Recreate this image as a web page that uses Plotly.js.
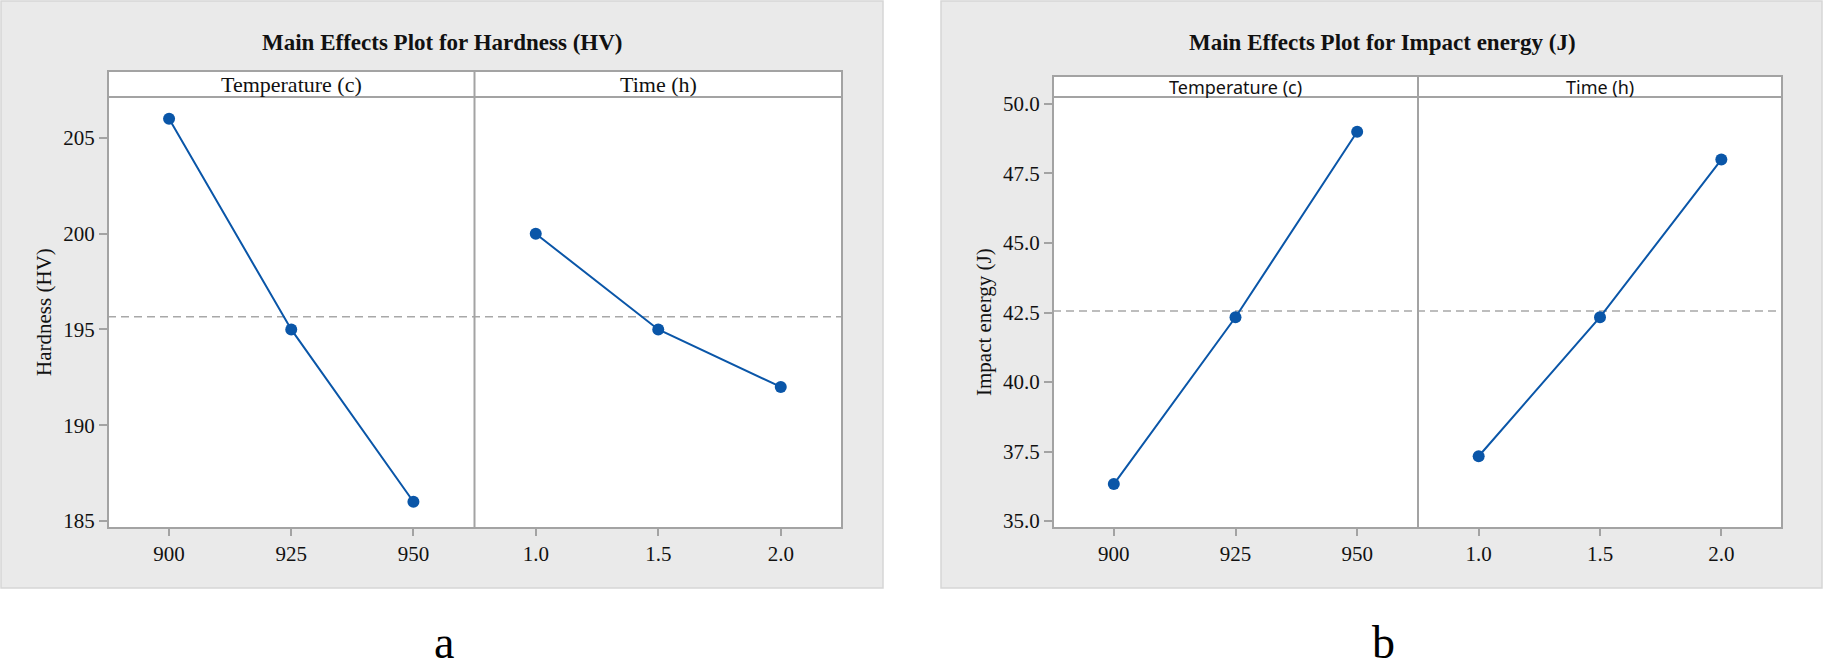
<!DOCTYPE html>
<html>
<head>
<meta charset="utf-8">
<script src="https://cdn.plot.ly/plotly-3.0.1.min.js"></script>
<style>html,body{margin:0;padding:0;background:#fff;}#chart{width:1824px;height:668px;}</style>
</head>
<body>
<div id="chart"></div>
<script>
// ---- data ----
const temperatureLevels = [900, 925, 950];
const timeLevels = [1.0, 1.5, 2.0];
const timeTickText = ["1.0", "1.5", "2.0"];
const hardnessByTemperature = [206, 195, 186];
const hardnessByTime = [200, 195, 192];
const impactByTemperature = [36.33, 42.33, 49.0];
const impactByTime = [37.33, 42.33, 48.0];
const hardnessTicks = [185, 190, 195, 200, 205];
const impactTicks = [35.0, 37.5, 40.0, 42.5, 45.0, 47.5, 50.0];
const impactTickText = ["35.0", "37.5", "40.0", "42.5", "45.0", "47.5", "50.0"];
const titleA = "Main Effects Plot for Hardness (HV)";
const titleB = "Main Effects Plot for Impact energy (J)";
const factorNames = ["Temperature (c)", "Time (h)"];
const yTitleA = "Hardness (HV)";
const yTitleB = "Impact energy (J)";

const mean = a => a.reduce((s, v) => s + v, 0) / a.length;

const W = 1824, H = 668;
const px = x => x / W;
const py = y => 1 - y / H;

const blue = "#0A56A8";
const frame = "#A3A3A3";
const serif = "Liberation Serif, Times New Roman, serif";
const sans = "Noto Sans, Open Sans, sans-serif";

const lineStyle = {color: blue, width: 2};
const markerStyle = {color: blue, size: 12};

const traces = [
  {x: temperatureLevels, y: hardnessByTemperature, xaxis: "x", yaxis: "y", mode: "lines+markers", line: lineStyle, marker: markerStyle, cliponaxis: false},
  {x: timeLevels, y: hardnessByTime, xaxis: "x2", yaxis: "y", mode: "lines+markers", line: lineStyle, marker: markerStyle, cliponaxis: false},
  {x: temperatureLevels, y: impactByTemperature, xaxis: "x3", yaxis: "y2", mode: "lines+markers", line: lineStyle, marker: markerStyle, cliponaxis: false},
  {x: timeLevels, y: impactByTime, xaxis: "x4", yaxis: "y2", mode: "lines+markers", line: lineStyle, marker: markerStyle, cliponaxis: false}
];

const PT = 97, PB = 528;
const yDom = [py(PB), py(PT)];

function xAxis(domain, range, vals, text, anchor) {
  return {
    domain: domain, range: range, anchor: anchor,
    tickmode: "array", tickvals: vals, ticktext: text,
    ticks: "outside", ticklen: 7, tickwidth: 2, tickcolor: frame,
    showline: false, showgrid: false, zeroline: false,
    tickfont: {family: serif, size: 21, color: "#111"}
  };
}
function yAxis(range, vals, text, anchor) {
  return {
    domain: yDom, range: range, anchor: anchor,
    tickmode: "array", tickvals: vals, ticktext: text,
    ticks: "outside", ticklen: 8, tickwidth: 2, tickcolor: frame,
    showline: false, showgrid: false, zeroline: false,
    tickfont: {family: serif, size: 21, color: "#111"}
  };
}

const panelFill = {fillcolor: "#EAEAEA", line: {color: "#D6D6D6", width: 1.5}, layer: "below"};
const whiteFill = {fillcolor: "#FFFFFF", line: {width: 0}, layer: "below"};
const frameLine = {color: frame, width: 2};

function rect(x0, x1, y0, y1, style) {
  return Object.assign({type: "rect", xref: "paper", yref: "paper",
    x0: px(x0), x1: px(x1), y0: py(y1), y1: py(y0)}, style);
}
function vline(x, y0, y1) {
  return {type: "line", xref: "paper", yref: "paper", x0: px(x), x1: px(x), y0: py(y1), y1: py(y0), line: frameLine, layer: "above"};
}

const shapes = [
  rect(1, 883, 1, 588, panelFill),
  rect(941, 1822, 1, 588, panelFill),
  rect(108, 842, PT, PB, whiteFill),
  rect(1053, 1782, PT, PB, whiteFill),
  {type: "line", xref: "paper", yref: "y", x0: px(108), x1: px(842),
   y0: mean(hardnessByTemperature), y1: mean(hardnessByTemperature),
   line: {color: "#A8A8A8", width: 1.5, dash: "8px,5px"}, layer: "below"},
  {type: "line", xref: "paper", yref: "y2", x0: px(1053), x1: px(1782),
   y0: mean(impactByTemperature), y1: mean(impactByTemperature),
   line: {color: "#A8A8A8", width: 1.5, dash: "8px,5px"}, layer: "below"},
  rect(108, 842, 71, PT, {fillcolor: "#FFFFFF", line: frameLine, layer: "below"}),
  rect(1053, 1782, 76, PT, {fillcolor: "#FFFFFF", line: frameLine, layer: "below"}),
  rect(108, 842, PT, PB, {fillcolor: "rgba(0,0,0,0)", line: frameLine, layer: "above"}),
  rect(1053, 1782, PT, PB, {fillcolor: "rgba(0,0,0,0)", line: frameLine, layer: "above"}),
  vline(474.5, 71, PB),
  vline(1418, 76, PB)
];

const annotations = [
  {text: "<b>" + titleA + "</b>", xref: "paper", yref: "paper", x: px(442), y: py(43),
   xanchor: "center", yanchor: "middle", showarrow: false, font: {family: serif, size: 23, color: "#111"}},
  {text: "<b>" + titleB + "</b>", xref: "paper", yref: "paper", x: px(1382), y: py(43),
   xanchor: "center", yanchor: "middle", showarrow: false, font: {family: serif, size: 23, color: "#111"}},
  {text: factorNames[0], xref: "paper", yref: "paper", x: px(291), y: py(84),
   xanchor: "center", yanchor: "middle", showarrow: false, font: {family: serif, size: 22, color: "#111"}},
  {text: factorNames[1], xref: "paper", yref: "paper", x: px(658), y: py(84),
   xanchor: "center", yanchor: "middle", showarrow: false, font: {family: serif, size: 22, color: "#111"}},
  {text: factorNames[0], xref: "paper", yref: "paper", x: px(1235.5), y: py(87),
   xanchor: "center", yanchor: "middle", showarrow: false, font: {family: sans, size: 18, color: "#111"}},
  {text: factorNames[1], xref: "paper", yref: "paper", x: px(1600), y: py(87),
   xanchor: "center", yanchor: "middle", showarrow: false, font: {family: sans, size: 18, color: "#111"}},
  {text: yTitleA, xref: "paper", yref: "paper", x: px(44), y: py(312), textangle: -90,
   xanchor: "center", yanchor: "middle", showarrow: false, font: {family: serif, size: 21, color: "#111"}},
  {text: yTitleB, xref: "paper", yref: "paper", x: px(984), y: py(322), textangle: -90,
   xanchor: "center", yanchor: "middle", showarrow: false, font: {family: serif, size: 21, color: "#111"}},
  {text: "a", xref: "paper", yref: "paper", x: px(444), y: 0, yshift: -2,
   xanchor: "center", yanchor: "bottom", showarrow: false, font: {family: serif, size: 46, color: "#000"}},
  {text: "b", xref: "paper", yref: "paper", x: px(1383), y: 0, yshift: -2,
   xanchor: "center", yanchor: "bottom", showarrow: false, font: {family: serif, size: 46, color: "#000"}}
];

const layout = {
  width: W, height: H,
  margin: {l: 0, r: 0, t: 0, b: 0, pad: 0},
  paper_bgcolor: "#FFFFFF", plot_bgcolor: "rgba(0,0,0,0)",
  showlegend: false,
  xaxis: xAxis([px(108), px(474.5)], [887.5, 962.5], temperatureLevels, temperatureLevels.map(String), "y"),
  xaxis2: xAxis([px(474.5), px(842)], [0.75, 2.25], timeLevels, timeTickText, "y"),
  xaxis3: xAxis([px(1053), px(1418)], [887.5, 962.5], temperatureLevels, temperatureLevels.map(String), "y2"),
  xaxis4: xAxis([px(1418), px(1782)], [0.75, 2.25], timeLevels, timeTickText, "y2"),
  yaxis: yAxis([184.63, 207.14], hardnessTicks, hardnessTicks.map(String), "x"),
  yaxis2: yAxis([34.75, 50.25], impactTicks, impactTickText, "x3"),
  shapes: shapes,
  annotations: annotations
};

Plotly.newPlot("chart", traces, layout, {displayModeBar: false, staticPlot: true});
</script>
</body>
</html>
